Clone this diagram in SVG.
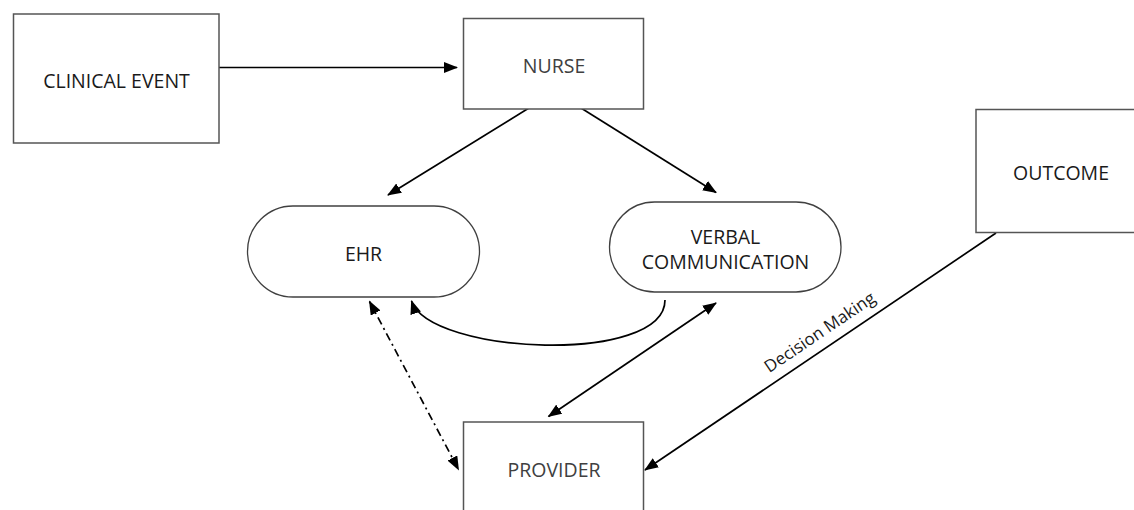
<svg xmlns="http://www.w3.org/2000/svg" width="1134" height="510" viewBox="0 0 1134 510">
  <style>
    .box { fill: #ffffff; stroke: #555555; stroke-width: 1.5; }
    .pill { fill: #ffffff; stroke: #404040; stroke-width: 1.3; }
    .lbl { font-family: "Open Sans", "Liberation Sans", sans-serif; font-size: 19.5px; fill: #1a1a1a; text-anchor: middle; }
    .gray { fill: #404040; }
    .conn { fill: none; stroke: #000000; stroke-width: 1.7; }
    .dashdot { stroke-dasharray: 8 4 2 4; }
    .elabel { font-family: "Open Sans", "Liberation Sans", sans-serif; font-size: 17px; fill: #1a1a1a; text-anchor: middle; }
  </style>
  <defs>
    <marker id="arrow" viewBox="0 0 14 11" refX="13" refY="5.5" markerWidth="14" markerHeight="11" markerUnits="userSpaceOnUse" orient="auto-start-reverse">
      <path d="M0,0 L14,5.5 L0,11 z" fill="#000000"/>
    </marker>
  </defs>
  <rect width="1134" height="510" fill="#ffffff"/>

  <g id="connectors">
    <line class="conn" x1="219" y1="67.5" x2="457" y2="67.5" marker-end="url(#arrow)"/>
    <line class="conn" x1="537" y1="103" x2="388" y2="195" marker-end="url(#arrow)"/>
    <line class="conn" x1="569" y1="100.5" x2="716" y2="192.5" marker-end="url(#arrow)"/>
    <path class="conn" d="M665,300 C665,365 430,355 411.5,301" marker-end="url(#arrow)"/>
    <line class="conn" x1="716" y1="303" x2="548.5" y2="416.5" marker-start="url(#arrow)" marker-end="url(#arrow)"/>
    <line class="conn dashdot" x1="369.5" y1="301.5" x2="458.5" y2="469.5" marker-start="url(#arrow)" marker-end="url(#arrow)"/>
    <line class="conn" x1="996" y1="233" x2="645" y2="470" marker-end="url(#arrow)"/>
    <text class="elabel" transform="translate(823,337) rotate(-34)">Decision Making</text>
  </g>

  <g id="clinical-event">
    <rect class="box" x="13.5" y="14" width="205.5" height="129"/>
    <text class="lbl" x="116.5" y="88">CLINICAL EVENT</text>
  </g>

  <g id="nurse">
    <rect class="box" x="463.5" y="18.5" width="180" height="90.5"/>
    <text class="lbl gray" x="554" y="72.5">NURSE</text>
  </g>

  <g id="ehr">
    <rect class="pill" x="247.5" y="206" width="232" height="91" rx="45.5" ry="45.5"/>
    <text class="lbl" x="363.5" y="261">EHR</text>
  </g>

  <g id="verbal-communication">
    <rect class="pill" x="609.5" y="202" width="231.5" height="90" rx="45" ry="45"/>
    <text class="lbl" x="725.5" y="244">VERBAL</text>
    <text class="lbl" x="725.5" y="269">COMMUNICATION</text>
  </g>

  <g id="outcome">
    <rect class="box" x="976" y="109.5" width="170" height="123"/>
    <text class="lbl" x="1061" y="180">OUTCOME</text>
  </g>

  <g id="provider">
    <rect class="box" x="463.5" y="422" width="180" height="100"/>
    <text class="lbl gray" x="554" y="477">PROVIDER</text>
  </g>
</svg>
